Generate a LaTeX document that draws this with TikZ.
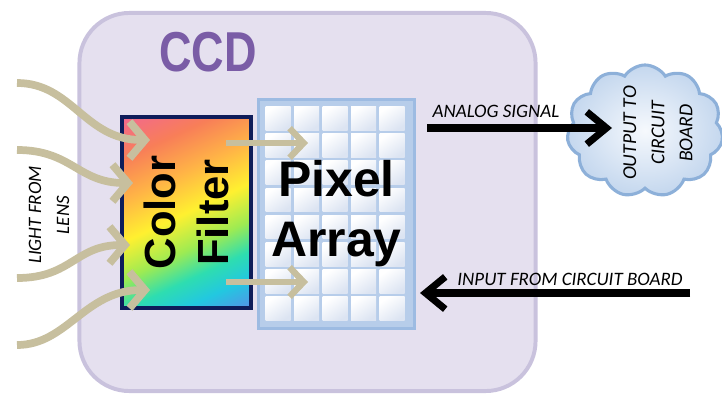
\documentclass[tikz,border=0pt]{standalone}
\usepackage{fontspec}
\setmainfont{Carlito}
\newfontfamily\headfont{Liberation Sans}
\usetikzlibrary{arrows.meta, positioning, calc, shapes.symbols}

\definecolor{ccdfill}{HTML}{E5E0EF}
\definecolor{ccdline}{HTML}{C9C2DD}
\definecolor{ccdpurple}{HTML}{7A5CA6}
\definecolor{rayt}{HTML}{C7BF9E}
\definecolor{filterline}{HTML}{0E1C5A}
\definecolor{pixline}{HTML}{9DBBE2}
\definecolor{pixframe}{HTML}{B7CDEA}
\definecolor{cellblue}{HTML}{DCE4F2}
\definecolor{cloudline}{HTML}{8DB0D9}
\definecolor{cloudin}{HTML}{F6F9FD}
\definecolor{cloudout}{HTML}{C4D7EE}
\definecolor{rbpink}{HTML}{F2698E}
\definecolor{rbred}{HTML}{F87E58}
\definecolor{rborange}{HTML}{FFB446}
\definecolor{rbyellow}{HTML}{FFF030}
\definecolor{rbgreen}{HTML}{9EEB52}
\definecolor{rbteal}{HTML}{2EDDB0}
\definecolor{rbcyan}{HTML}{22C8E0}
\definecolor{rbblue}{HTML}{5A8CE8}

\pgfdeclarehorizontalshading{rainbow}{100bp}{color(0bp)=(rbpink); color(17bp)=(rbpink); color(28bp)=(rbred); color(39bp)=(rborange); color(50bp)=(rbyellow); color(60bp)=(rbgreen); color(68bp)=(rbteal); color(75bp)=(rbcyan); color(84bp)=(rbblue); color(100bp)=(rbblue)}

\tikzset{
    ccdbox/.style={rectangle, rounded corners=1.25cm, draw=ccdline, fill=ccdfill, line width=2.8pt, minimum width=11.4cm, minimum height=9.45cm},
    ccdtitle/.style={text=ccdpurple, font=\headfont\bfseries\fontsize{32}{36}\selectfont, yscale=1.25, inner sep=0pt},
    filterbox/.style={rectangle, draw=filterline, line width=2.6pt, shade, shading=rainbow, shading angle=-65, minimum width=3.225cm, minimum height=4.775cm, inner sep=0pt},
    pixelbox/.style={rectangle, draw=pixline, fill=pixframe, line width=2pt, minimum width=3.9cm, minimum height=5.725cm, inner sep=0pt},
    cellfill/.style={top color=white, bottom color=cellblue, shading angle=35},
    bigword/.style={align=center, inner sep=0pt, font=\headfont\bfseries#1},
    cloudbox/.style={cloud, cloud puffs=11, cloud puff arc=115, aspect=1.15, draw=cloudline, line width=2.2pt, inner color=cloudin, outer color=cloudout, minimum width=3.9cm, minimum height=3.3cm, inner sep=0pt},
    tag/.style={align=center, inner sep=0pt, font=\itshape\fontsize{13.5}{20}\selectfont},
    lightray/.style={draw=rayt, line width=5.5pt, -{Straight Barb[length=11pt,width=26pt]}},
    passray/.style={draw=rayt, line width=4.5pt, -{Straight Barb[length=10pt,width=21pt]}},
    signal/.style={draw=black, line width=5pt, -{Straight Barb[length=14pt,width=23pt]}}
}

\begin{document}
\begin{tikzpicture}[x=0.025cm, y=-0.025cm]
    \useasboundingbox (0,0) rectangle (722,394);

    % CCD housing
    \node (ccd) [ccdbox] at (307.5,202) {};
    \node (ccdname) [ccdtitle] at (208,52) {CCD};

    % Colour filter and pixel array
    \node (filter) [filterbox] at (186.5,212.5) {};
    \node (pixels) [pixelbox] at (336.5,214) {};
    \foreach \c in {0,...,4}
        \foreach \r in {0,...,7}
            \shade[cellfill] ($(pixels.north west)+(8.5+28.5*\c,8.5+27.2*\r)$) rectangle ++(25,23.5);

    \node (filtername) [bigword={\fontsize{31}{37.5}\selectfont}, rotate=90] at (filter.center) {Color\\Filter};
    \node (pixelname) [bigword={\fontsize{35.5}{42.6}\selectfont}] at (pixels.center) {Pixel\\Array};

    % Output cloud
    \node (board) [cloudbox] at (645,131) {};
    \node (boardname) [tag, font=\itshape\fontsize{14}{20}\selectfont, rotate=90] at (658,133) {OUTPUT TO\\CIRCUIT\\BOARD};

    % Light from the lens
    \coordinate (lens1) at (17,83);
    \coordinate (lens2) at (17,150);
    \coordinate (lens3) at (17,278);
    \coordinate (lens4) at (17,345);
    \coordinate (hit1) at (150,140);
    \coordinate (hit2) at (133,183);
    \coordinate (hit3) at (130,245);
    \coordinate (hit4) at (150,290);
    \draw [lightray] (lens1) .. controls +(55,0) and +(-65,0) .. (hit1);
    \draw [lightray] (lens2) .. controls +(55,0) and +(-55,0) .. (hit2);
    \draw [lightray] (lens3) .. controls +(55,0) and +(-55,0) .. (hit3);
    \draw [lightray] (lens4) .. controls +(50,0) and +(-65,0) .. (hit4);
    \node (lensname) [tag, rotate=90] at (49,215) {LIGHT FROM\\LENS};

    % Filtered light into the pixels
    \coordinate (pass1) at (226,143);
    \coordinate (pass2) at (226,282);
    \coordinate (cell1) at (308,143);
    \coordinate (cell2) at (308,282);
    \draw [passray] (pass1) -- (cell1);
    \draw [passray] (pass2) -- (cell2);

    % Signals to and from the board
    \coordinate (sigstart) at (427,128);
    \coordinate (sigend) at (612,128);
    \coordinate (instart) at (690,293);
    \coordinate (inend) at (420,293);
    \draw [signal] (sigstart) -- (sigend);
    \draw [signal] (instart) -- (inend);
    \node (signame) [tag] at (496,111) {ANALOG SIGNAL};
    \node (inname) [tag] at (570,279) {INPUT FROM CIRCUIT BOARD};

\end{tikzpicture}
\end{document}
